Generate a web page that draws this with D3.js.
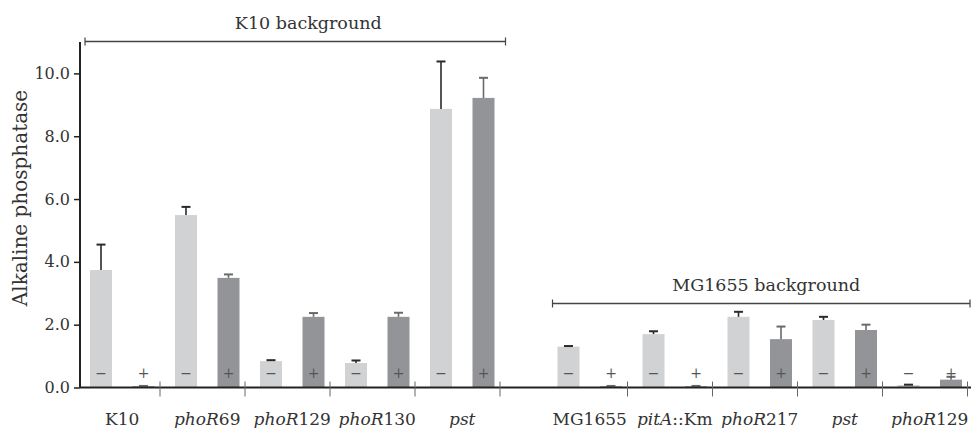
<!DOCTYPE html>
<html>
<head>
<meta charset="utf-8">
<script src="https://cdn.jsdelivr.net/npm/d3@7"></script>
<style>
  html, body { margin: 0; padding: 0; background: #fff; }
  svg { display: block; }
  text { font-family: "DejaVu Serif", serif; fill: #333; }
</style>
</head>
<body>
<svg id="chart" width="971" height="428"></svg>
<script>
// ---- data ----
const labelItalic = ["", "phoR", "phoR", "phoR", "pst", "", "pitA", "phoR", "pst", "phoR"];
const labelRoman  = ["K10", "69", "129", "130", "", "MG1655", "::Km", "217", "", "129"];
const backgrounds = ["K10", "K10", "K10", "K10", "K10", "MG1655", "MG1655", "MG1655", "MG1655", "MG1655"];
const minusValues = [3.74, 5.49, 0.84, 0.78, 8.87, 1.30, 1.70, 2.25, 2.15, 0.08];
const minusErr    = [0.81, 0.26, 0.03, 0.08, 1.51, 0.02, 0.09, 0.16, 0.10, 0.01];
const plusValues  = [0.04, 3.49, 2.25, 2.25, 9.22, 0.04, 0.04, 1.54, 1.83, 0.25];
const plusErr     = [0.01, 0.11, 0.12, 0.13, 0.64, 0.01, 0.01, 0.40, 0.17, 0.09];
const yTicks = [0, 2, 4, 6, 8, 10];
const yLabel = "Alkaline phosphatase";

// ---- layout ----
const W = 971, H = 428;
const svg = d3.select("#chart");
const x0 = 90, step = 42.5, bw = 22;

// slot keys: each strain has a "-" and "+" slot; a blank slot between backgrounds
const slots = [];
backgrounds.forEach((b, i) => {
  if (i > 0 && backgrounds[i - 1] !== b) slots.push("gap");
  slots.push(i + "-");
  slots.push(i + "+");
});
const pInner = 1 - bw / step;
const x = d3.scaleBand()
  .domain(slots)
  .range([x0, x0 + step * (slots.length - pInner)])
  .paddingInner(pInner)
  .paddingOuter(0);

const y = d3.scaleLinear().domain([0, 11]).range([387.5, 42]);

const bars = [];
minusValues.forEach((v, i) => {
  bars.push({ key: i + "-", v, e: minusErr[i], sign: "\u2212", kind: "minus" });
  bars.push({ key: i + "+", v: plusValues[i], e: plusErr[i], sign: "+", kind: "plus" });
});

const colors = { minus: "#d1d2d4", plus: "#939498" };
const errColors = { minus: "#2a2a2a", plus: "#6a6a6a" };

// bars
svg.append("g").selectAll("rect").data(bars).join("rect")
  .attr("x", d => x(d.key))
  .attr("width", x.bandwidth())
  .attr("y", d => y(d.v))
  .attr("height", d => y(0) - y(d.v))
  .attr("fill", d => colors[d.kind]);

// error bars
const eg = svg.append("g");
eg.selectAll("line.v").data(bars).join("line")
  .attr("x1", d => x(d.key) + bw / 2).attr("x2", d => x(d.key) + bw / 2)
  .attr("y1", d => y(d.v)).attr("y2", d => y(d.v + d.e))
  .attr("stroke", d => errColors[d.kind]).attr("stroke-width", 1.6);
eg.selectAll("line.c").data(bars).join("line")
  .attr("x1", d => x(d.key) + bw / 2 - 4.5).attr("x2", d => x(d.key) + bw / 2 + 4.5)
  .attr("y1", d => y(d.v + d.e)).attr("y2", d => y(d.v + d.e))
  .attr("stroke", d => errColors[d.kind]).attr("stroke-width", 2);

// sign markers
svg.append("g").attr("opacity", 0.99).selectAll("text").data(bars).join("text")
  .attr("x", d => x(d.key) + bw / 2)
  .attr("y", 378)
  .attr("text-anchor", "middle")
  .style("font-size", "14px")
  .style("fill", "#555")
  .text(d => d.sign);

// x axis line
svg.append("line")
  .attr("x1", 80).attr("x2", W).attr("y1", y(0)).attr("y2", y(0))
  .attr("stroke", "#222").attr("stroke-width", 2);

// separators after each strain group
svg.append("g").selectAll("line").data(minusValues.map((_, i) => i)).join("line")
  .attr("x1", i => x(i + "+") + bw + 5.5).attr("x2", i => x(i + "+") + bw + 5.5)
  .attr("y1", y(0) - 6).attr("y2", y(0) + 9)
  .attr("stroke", "#666").attr("stroke-width", 1);

// category labels
const cl = svg.append("g").selectAll("text").data(minusValues.map((_, i) => i)).join("text")
  .attr("x", i => (x(i + "-") + x(i + "+") + bw) / 2)
  .attr("y", 425)
  .attr("text-anchor", "middle")
  .style("font-size", "17px");
cl.append("tspan").style("font-style", "italic").text(i => labelItalic[i]);
cl.append("tspan").text(i => labelRoman[i]);

// y axis
const yAxis = svg.append("g")
  .attr("transform", "translate(80,0)")
  .call(d3.axisLeft(y).tickValues(yTicks).tickFormat(d3.format(".1f")).tickSize(6).tickPadding(4));
yAxis.select(".domain").attr("stroke", "#222").attr("stroke-width", 2)
  .attr("d", `M0,${y(0)}V${y(11)}`);
yAxis.selectAll(".tick line").attr("stroke", "#222").attr("stroke-width", 1.5);
yAxis.selectAll(".tick text").style("font-size", "16px").style("font-family", "DejaVu Serif").attr("fill", "#333");

svg.append("text")
  .attr("transform", `translate(27,198) rotate(-90)`)
  .attr("text-anchor", "middle")
  .style("font-size", "20px")
  .text(yLabel);

// background brackets
const bgNames = Array.from(new Set(backgrounds));
const bracketY = { K10: 41.5, MG1655: 303.5 };
bgNames.forEach(b => {
  const idx = backgrounds.map((v, i) => v === b ? i : -1).filter(i => i >= 0);
  const xa = x(idx[0] + "-") - 5;
  const xb = Math.min(x(idx[idx.length - 1] + "+") + bw + 11, W - 1);
  const yy = bracketY[b];
  const g = svg.append("g");
  g.append("line").attr("x1", xa).attr("x2", xb).attr("y1", yy).attr("y2", yy)
    .attr("stroke", "#444").attr("stroke-width", 1.5);
  [xa, xb].forEach(xx => g.append("line").attr("x1", xx).attr("x2", xx)
    .attr("y1", yy - 4).attr("y2", yy + 4).attr("stroke", "#444").attr("stroke-width", 1.2));
  g.append("text").attr("x", (xa + xb) / 2 + (b === "K10" ? 13 : 5)).attr("y", yy - 13)
    .attr("text-anchor", "middle").style("font-size", "17.5px")
    .text(b + " background");
});
</script>
</body>
</html>
